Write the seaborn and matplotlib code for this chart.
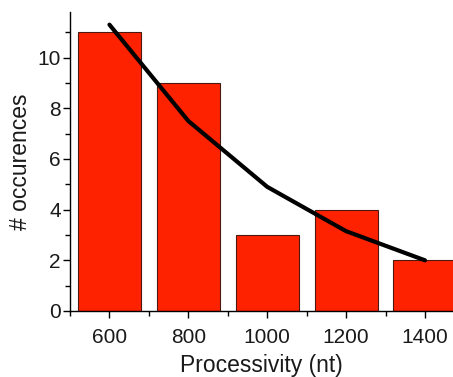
import matplotlib
matplotlib.use("Agg")
import matplotlib.pyplot as plt
import seaborn as sns
import numpy as np
from matplotlib.ticker import MultipleLocator

processivity = [600, 800, 1000, 1200, 1400]
occurrences = [11, 9, 3, 4, 2]
fit_x = [600, 800, 1000, 1200, 1400]
fit_y = [11.3, 7.5, 4.9, 3.15, 2.0]

sns.set_style("white")
plt.rcParams['font.family'] = ['Liberation Sans', 'DejaVu Sans']

fig = plt.figure(figsize=(4.53, 3.77), dpi=100)
ax = fig.add_axes([70/453, 66/377, 383/453, 299/377])

sns.barplot(x=processivity, y=occurrences, native_scale=True, color="#FF2200",
            saturation=1, edgecolor="#4a1a10", linewidth=0.8, width=0.8, ax=ax)
sns.lineplot(x=fit_x, y=fit_y, color="black", linewidth=3, ax=ax)

ax.set_xlim(500, 1471)
ax.set_ylim(0, 11.8)
ax.xaxis.set_major_locator(MultipleLocator(200))
ax.xaxis.set_minor_locator(MultipleLocator(100))
ax.yaxis.set_major_locator(MultipleLocator(2))
ax.yaxis.set_minor_locator(MultipleLocator(1))
ax.tick_params(axis='x', which='major', direction='out', length=5, width=1, labelsize=15,
               bottom=True, color='black', pad=7, labelcolor='#1a1a1a')
ax.tick_params(axis='y', which='major', direction='out', length=5, width=1, labelsize=15,
               left=True, color='black', pad=1.5, labelcolor='#1a1a1a')
ax.tick_params(axis='both', which='minor', direction='out', length=3.5, width=1,
               bottom=True, left=True, color='black')
for s in ['top', 'right']:
    ax.spines[s].set_visible(False)
for s in ['left', 'bottom']:
    ax.spines[s].set_color('black')
    ax.spines[s].set_linewidth(1)
ax.set_xlabel("Processivity (nt)", fontsize=16.5, labelpad=5, color='#1a1a1a')
ax.set_ylabel("# occurences", fontsize=16.5, labelpad=4, color='#1a1a1a')

fig.savefig("out.png", dpi=100)
